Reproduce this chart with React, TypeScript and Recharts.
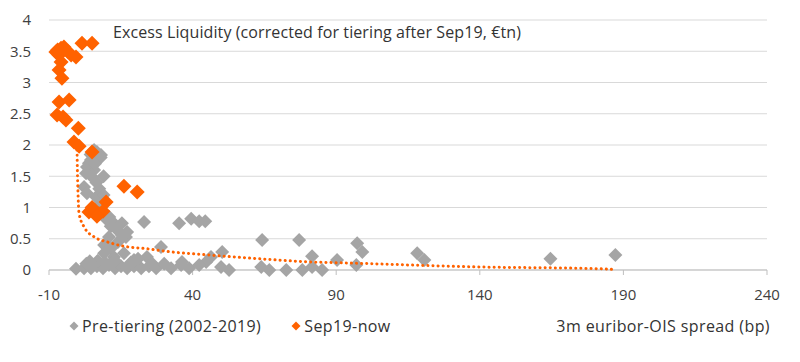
import React from 'react';
import { ScatterChart, Scatter, XAxis, YAxis, CartesianGrid } from 'recharts';

// Pre-tiering (2002-2019)
const preX = [
  6.7, 8.1, 5.7, 4.6, 3.2, 5.7, 2.9, 5.0, 3.9, 2.2, 3.2, 6.4, 8.1, 7.4, 10.2, 12.6, 15.4, 13.7, 16.8, 10.9,
  15.4, 17.2, 23.1, 9.2, 11.6, 35.3, 39.5, 42.3, 44.4, 64.2, 77.1, 50.3, 81.6, 97.3, 99.1, 90.3, 97.0, 118.2,
  120.7, 164.6, 187.2, 29.0, 24.1, 19.6, 16.1, 12.6, 9.2, 46.4, 44.7, -0.6, 2.2, 4.6, 6.7, 8.8, 10.9, 13.0,
  15.1, 17.2, 19.6, 22.1, 24.8, 27.3, 30.1, 32.5, 36.0, 38.8, 42.3, 49.9, 52.7, 63.9, 66.7, 72.6, 78.2, 81.6,
  85.1, 36.3, 7.0, 9.5, 3.0, 4.2, 8.0, 9.0, 7.5, 11.5, 14.0, 13.0, 18.5, 21.0, 26.0, 6.0, 4.5, 6.5, 9.0, 11.0,
];
const preY = [
  1.89, 1.84, 1.92, 1.76, 1.65, 1.6, 1.55, 1.49, 1.71, 1.33, 1.23, 1.17, 1.07, 0.96, 0.8, 0.75, 0.75, 0.64, 0.53, 0.53,
  0.56, 0.61, 0.77, 0.4, 0.35, 0.75, 0.82, 0.78, 0.78, 0.48, 0.48, 0.29, 0.22, 0.43, 0.29, 0.16, 0.08, 0.27,
  0.16, 0.18, 0.24, 0.37, 0.21, 0.16, 0.27, 0.21, 0.27, 0.21, 0.13, 0.02, 0.03, 0.03, 0.06, 0.03, 0.08, 0.03,
  0.06, 0.03, 0.06, 0.03, 0.06, 0.03, 0.1, 0.03, 0.08, 0.03, 0.08, 0.05, 0.0, 0.05, 0.0, 0.0, 0.0, 0.05,
  0.0, 0.13, 0.15, 0.12, 0.1, 0.14, 1.8, 1.5, 1.3, 0.7, 0.45, 0.15, 0.12, 0.18, 0.1, 1.7, 1.85, 1.4, 1.2, 0.85,
];

// Sep19-now
const postX = [
  -7.6, -5.8, -4.8, -6.5, -2.3, -0.6, 1.5, 5.0, -5.8, -6.5, -5.5, -6.5, -3.0, -7.2, -4.1, -5.1, 0.2, -1.3, 0.5, 5.0,
  16.1, 20.7, 9.9, 3.9, 5.7, 7.4, 8.8, 5.0, 6.7, -7.0, -3.5,
];
const postY = [
  3.49, 3.55, 3.57, 3.44, 3.44, 3.41, 3.63, 3.63, 3.33, 3.2, 3.07, 2.69, 2.72, 2.48, 2.4, 2.45, 2.27, 2.05, 1.98, 1.89,
  1.34, 1.25, 1.09, 0.93, 0.96, 0.9, 0.94, 1.0, 0.86, 3.52, 3.5,
];

// dotted trend line
const trendX = [-0.24, -0.1, 0.1, 0.45, 2.2, 5.7, 10.2, 16.1, 24.1, 32.5, 45.7, 63.2, 80.6, 95.6, 138, 181.6, 186];
const trendY = [1.92, 1.55, 1.23, 0.91, 0.69, 0.53, 0.45, 0.38, 0.34, 0.29, 0.24, 0.18, 0.13, 0.11, 0.05, 0.02, 0.01];

const xTicks = [-10, 40, 90, 140, 190, 240];
const yTicks = [0, 0.5, 1, 1.5, 2, 2.5, 3, 3.5, 4];

const GREY = '#a5a5a5';
const ORANGE = '#ff6200';
const FONT = '"Open Sans", sans-serif';

const zip = (xs: number[], ys: number[]) => xs.map((x, i) => ({ x, y: ys[i] }));
const preData = zip(preX, preY);
const postData = zip(postX, postY);
const trendData = zip(trendX, trendY);

const Diamond = (color: string, r: number) => (props: any) => {
  const { cx, cy } = props;
  if (cx == null || cy == null) return <g />;
  return <polygon points={`${cx},${cy - r} ${cx + r},${cy} ${cx},${cy + r} ${cx - r},${cy}`} fill={color} />;
};

const LegendDiamond = ({ color }: { color: string }) => (
  <svg width={10} height={10} style={{ marginRight: 3 }}>
    <polygon points="5,0.5 9.5,5 5,9.5 0.5,5" fill={color} />
  </svg>
);

export default function App() {
  const tickStyle = { fill: '#404040', fontSize: 15, fontFamily: FONT };
  const label = { fontSize: 16, color: '#333', whiteSpace: 'nowrap' as const, letterSpacing: 0.4 };
  return (
    <div style={{ position: 'absolute', left: 0, top: 0, width: 800, height: 362, background: '#fff', fontFamily: FONT }}>
      <ScatterChart width={800} height={362} margin={{ top: 20, right: 33, bottom: 0, left: 0 }}>
        <CartesianGrid vertical={false} stroke="#d9d9d9" />
        <XAxis
          type="number"
          dataKey="x"
          domain={[-10, 240]}
          ticks={xTicks}
          interval={0}
          height={92}
          tickSize={5}
          tickMargin={14}
          stroke="#bfbfbf"
          tick={tickStyle}
        />
        <YAxis
          type="number"
          dataKey="y"
          domain={[0, 4]}
          ticks={yTicks}
          interval={0}
          width={49}
          axisLine={false}
          tickLine={false}
          tickSize={0}
          tickMargin={18}
          tick={tickStyle}
        />
        <Scatter data={preData} fill={GREY} shape={Diamond(GREY, 7)} isAnimationActive={false} />
        <Scatter data={postData} fill={ORANGE} shape={Diamond(ORANGE, 7.5)} isAnimationActive={false} />
        <Scatter
          data={trendData}
          line={{ stroke: ORANGE, strokeWidth: 3, strokeDasharray: '0.1 5', strokeLinecap: 'round' }}
          lineJointType="monotoneX"
          shape={() => <g />}
          isAnimationActive={false}
        />
      </ScatterChart>
      <div style={{ position: 'absolute', left: 113, top: 21, fontSize: 16, color: '#333', whiteSpace: 'nowrap', letterSpacing: 0.1 }}>
        Excess Liquidity (corrected for tiering after Sep19, €tn)
      </div>
      <div style={{ ...label, position: 'absolute', left: 69, top: 315, display: 'flex', alignItems: 'center' }}>
        <LegendDiamond color={GREY} />
        <span>Pre-tiering (2002-2019)</span>
        <span style={{ width: 30 }} />
        <LegendDiamond color={ORANGE} />
        <span>Sep19-now</span>
      </div>
      <div style={{ ...label, position: 'absolute', right: 30, top: 315 }}>
        3m euribor-OIS spread (bp)
      </div>
    </div>
  );
}
